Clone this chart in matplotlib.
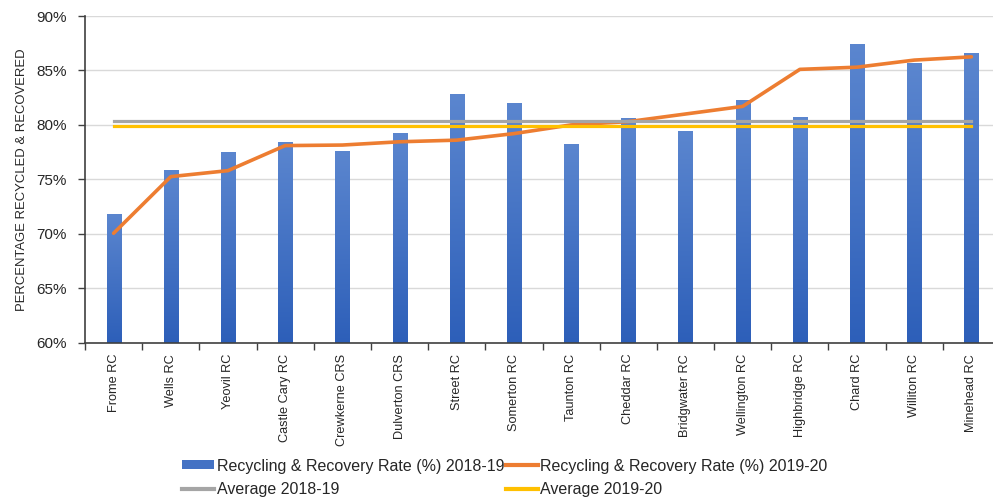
import matplotlib
matplotlib.use("Agg")
import matplotlib.pyplot as plt
import numpy as np
from matplotlib.colors import LinearSegmentedColormap
from matplotlib.patches import Patch
from matplotlib.lines import Line2D
from matplotlib.ticker import PercentFormatter

plt.rcParams['font.family'] = ['Liberation Sans', 'DejaVu Sans']

# data
sites = ["Frome RC", "Wells RC", "Yeovil RC", "Castle Cary RC", "Crewkerne CRS",
         "Dulverton CRS", "Street RC", "Somerton RC", "Taunton RC", "Cheddar RC",
         "Bridgwater RC", "Wellington RC", "Highbridge RC", "Chard RC",
         "Williton RC", "Minehead RC"]
rate_1819 = [71.8, 75.8, 77.45, 78.4, 77.6, 79.2, 82.8, 81.95, 78.2, 80.6,
             79.4, 82.3, 80.7, 87.4, 85.65, 86.6]
rate_1920 = [70.05, 75.25, 75.8, 78.1, 78.15, 78.45, 78.6, 79.2, 80.0, 80.3,
             81.0, 81.7, 85.1, 85.3, 85.95, 86.25]
avg_1819 = 80.37
avg_1920 = 79.93

fig = plt.figure(figsize=(9.93, 4.98), dpi=100)
ax = fig.add_axes([85/993, 1 - 342.7/498, 915/993, (342.7 - 16)/498])

x = np.arange(len(sites))
ymin, ymax = 60, 90
bar_w = 0.245

# bars with a vertical gradient, like the Excel fill
cmap = LinearSegmentedColormap.from_list("bluegrad", ["#2d5fb9", "#5b86cf"])
grad = np.linspace(0, 1, 256).reshape(-1, 1)
for xi, v in zip(x, rate_1819):
    ax.imshow(grad, cmap=cmap, origin='lower', aspect='auto', zorder=2,
              extent=[xi - bar_w/2, xi + bar_w/2, ymin, v], interpolation='bilinear')

ax.plot(x, rate_1920, color="#ed7d31", lw=2.6, zorder=3, solid_capstyle='round')
ax.plot(x, np.full(len(x), avg_1819), color="#a5a5a5", lw=2.3, zorder=4)
ax.plot(x, np.full(len(x), avg_1920), color="#ffc000", lw=2.3, zorder=5)

ax.set_xlim(-0.5, len(sites) - 0.5)
ax.set_ylim(ymin, ymax)
ax.set_yticks(np.arange(60, 91, 5))
ax.yaxis.set_major_formatter(PercentFormatter(decimals=0))
ax.grid(axis='y', color='#d9d9d9', lw=1, zorder=0)
ax.set_axisbelow(True)

ax.set_xticks(x)
ax.set_xticklabels(sites, rotation=90, fontsize=9.2, color='#262626')
ax.set_xticks(np.arange(-0.5, len(sites)), minor=True)
ax.tick_params(axis='x', which='major', length=0, pad=8)
ax.tick_params(axis='x', which='minor', length=5, width=1, color='#404040')
ax.tick_params(axis='y', length=5, width=1, color='#404040', labelsize=11,
               labelcolor='#262626', pad=8)

for s in ['top', 'right']:
    ax.spines[s].set_visible(False)
for s in ['left', 'bottom']:
    ax.spines[s].set_color('#404040')
    ax.spines[s].set_linewidth(1.2)

ax.set_ylabel("PERCENTAGE RECYCLED & RECOVERED", fontsize=9.4, color='#262626')
ax.yaxis.set_label_coords(-57/915, 0.5)

handles = [
    Patch(facecolor="#4472c4", edgecolor='none'),
    Line2D([], [], color="#a5a5a5", lw=3),
    Line2D([], [], color="#ed7d31", lw=3),
    Line2D([], [], color="#ffc000", lw=3),
]
labels = ["Recycling & Recovery Rate (%) 2018-19", "Average 2018-19",
          "Recycling & Recovery Rate (%) 2019-20", "Average 2019-20"]
fig.legend(handles, labels, ncol=2, loc='center', bbox_to_anchor=(505/993, 1 - 478/498),
           frameon=False, fontsize=11.5, handlelength=2.0, handletextpad=0.15,
           columnspacing=0.1, labelspacing=0.55, handleheight=0.5, labelcolor='#262626')

fig.savefig("out.png", dpi=100)
